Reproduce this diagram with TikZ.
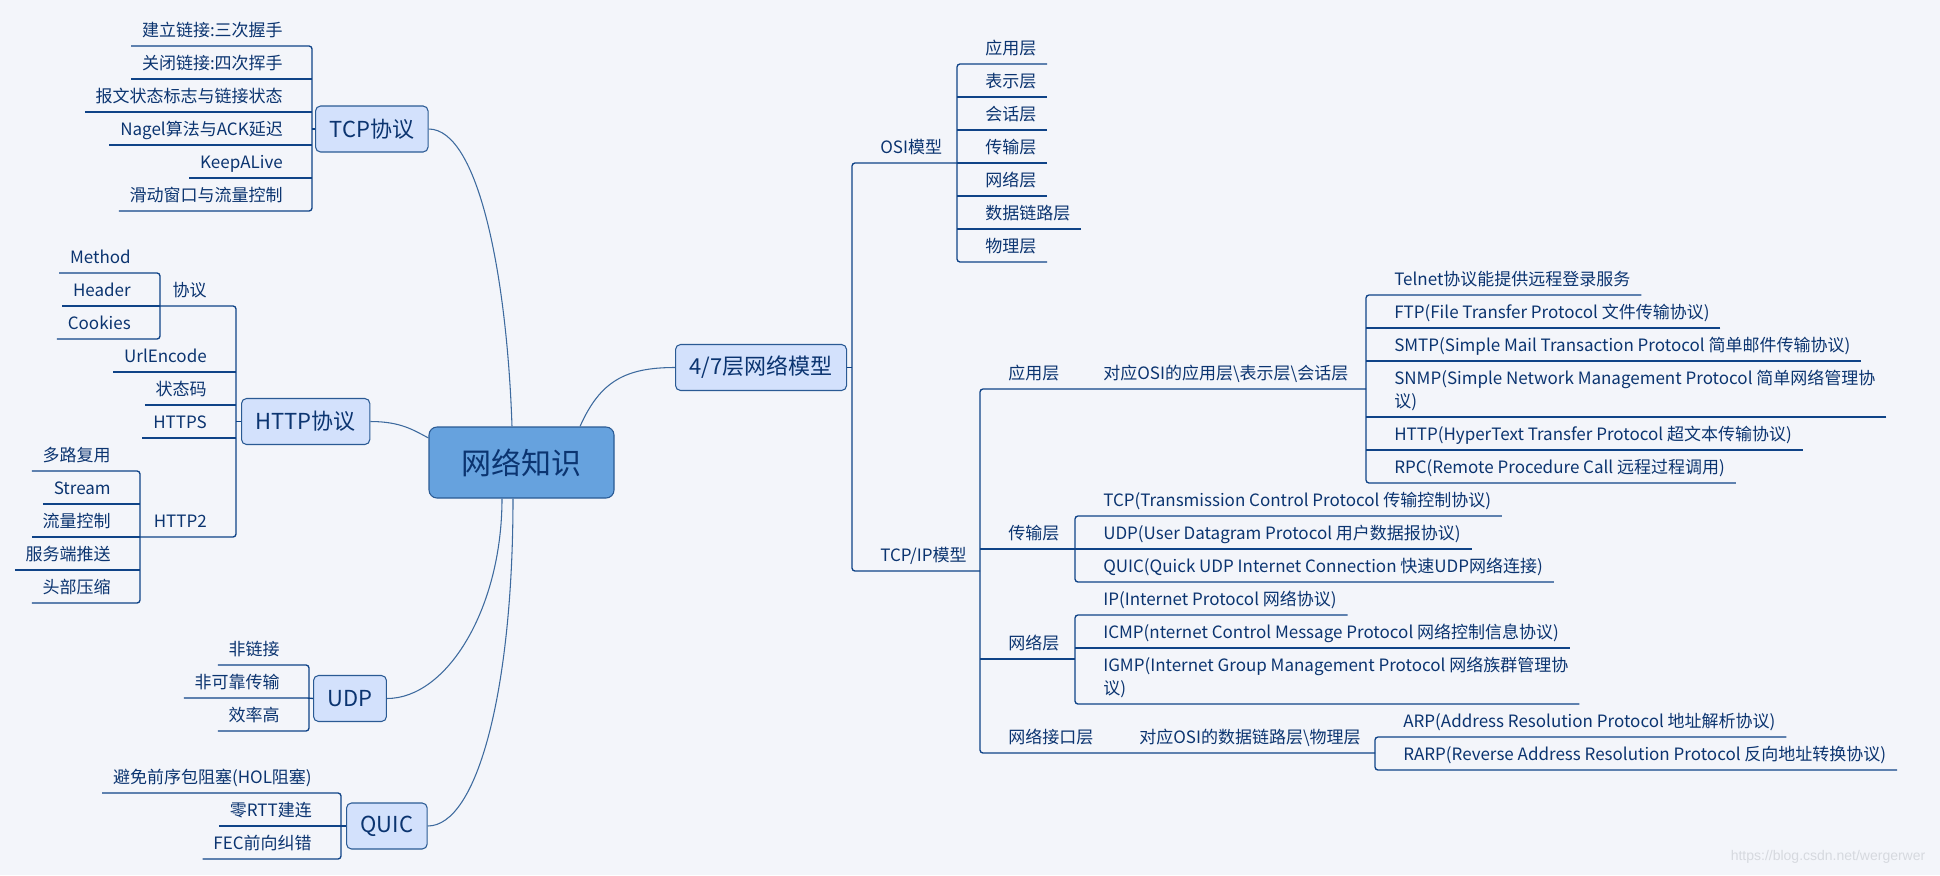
\documentclass[tikz,border=0pt]{standalone}
\usepackage{fontspec}
\setmainfont{Noto Sans CJK SC}
\newfontfamily\markfont{Liberation Sans}
\usetikzlibrary{calc}

\definecolor{bgc}{HTML}{F3F5FA}
\definecolor{linec}{HTML}{0F4387}
\definecolor{textc}{HTML}{0B3470}
\definecolor{curvec}{HTML}{3D6A9E}
\definecolor{boxline}{HTML}{2A5A94}
\definecolor{topicfill}{HTML}{D3E1FC}
\definecolor{rootfill}{HTML}{66A2DE}
\definecolor{markc}{HTML}{D6D9DF}

\begin{document}
\begin{tikzpicture}[
    x=0.75pt, y=-0.75pt, % 1 unidad = 1 px, eje y hacia abajo
    leaf/.style={font=\fontsize{12.75}{17.25}\selectfont, text=textc,
      inner xsep=8pt, inner ysep=0pt, text depth=6.75pt}, % texto sobre su raya
    leafL/.style={leaf, anchor=south east, xshift=-13.75pt}, % ramas a la izquierda
    leafR/.style={leaf, anchor=south west, xshift=13pt}, % ramas a la derecha
    branch/.style={draw=linec, line width=1pt, rounded corners=2.25pt},
    curve/.style={draw=curvec, line width=0.8pt},
    topic/.style={draw=boxline, line width=0.8pt, fill=topicfill, rounded corners=3.75pt,
      text=textc, font=\fontsize{16.5}{20}\selectfont, minimum height=34.5pt, inner xsep=10.5pt},
    root/.style={draw=boxline, line width=0.8pt, fill=rootfill, rounded corners=6pt,
      text=textc, font=\fontsize{22.5}{27}\selectfont, minimum width=138.75pt, minimum height=53.25pt}
]
    % --- Fondo y margenes ---
    \useasboundingbox (0,0) rectangle (1940,875);
    \fill[bgc] (0,0) rectangle (1940,875);

    % --- Nodo central y temas ---
    \node[root] (main) at (521.5,462.5) {网络知识};
    \node[topic, anchor=west] (tcpT) at (315,129) {TCP协议};
    \node[topic, anchor=west] (httpT) at (241,421.5) {HTTP协议};
    \node[topic, anchor=west] (udpT) at (313,698.5) {UDP};
    \node[topic, anchor=west] (quicT) at (346,826) {QUIC};
    \node[topic, anchor=west] (modelT) at (675,367.5) {4/7层网络模型};

    % Curvas del centro a cada tema
    \draw[curve] (tcpT.east) .. controls +(50,0) and +(-5,-150) .. ($(main.north)+(-9.5,0)$);
    \draw[curve] (httpT.east) .. controls +(30,0) and +(-15,-8) .. ($(main.west)+(0,-24.5)$);
    \draw[curve] (udpT.east) .. controls +(60,0) and +(0,110) .. ($(main.south)+(-19.5,0)$);
    \draw[curve] (quicT.east) .. controls +(50,0) and +(0,190) .. ($(main.south)+(-8.5,0)$);
    \draw[curve] ($(main.north)+(58.5,0)$) .. controls +(20,-45) and +(-50,0) .. (modelT.west);

    % --- TCP协议 ---
    \coordinate (tcpV) at (312,0);
    \node[leafL] (tcp1) at (312,46) {建立链接:三次握手};
    \node[leafL] (tcp2) at (312,79) {关闭链接:四次挥手};
    \node[leafL] (tcp3) at (312,112) {报文状态标志与链接状态};
    \node[leafL] (tcp4) at (312,145) {Nagel算法与ACK延迟};
    \node[leafL] (tcp5) at (312,178) {KeepALive};
    \node[leafL] (tcp6) at (312,211) {滑动窗口与流量控制};
    \draw[branch] (tcp1.south west) -| (tcp6.south east -| tcpV) -- (tcp6.south west);
    \draw[branch] (tcp2.south west) -- (tcp2.south west -| tcpV)
      (tcp3.south west) -- (tcp3.south west -| tcpV)
      (tcp4.south west) -- (tcp4.south west -| tcpV)
      (tcp5.south west) -- (tcp5.south west -| tcpV)
      (tcpT.west) -- (tcpT.west -| tcpV);

    % --- HTTP协议 ---
    \coordinate (httpV) at (236,0);
    \coordinate (protoV) at (160,0);
    \coordinate (h2V) at (140,0);
    \node[leafL] (proto) at (236,306) {协议};
    \node[leafL] (url) at (236,372) {UrlEncode};
    \node[leafL] (code) at (236,405) {状态码};
    \node[leafL] (https) at (236,438) {HTTPS};
    \node[leafL] (h2) at (236,537) {HTTP2};
    \node[leafL] (proto1) at (160,273) {Method};
    \node[leafL] (proto2) at (160,306) {Header};
    \node[leafL] (proto3) at (160,339) {Cookies};
    \node[leafL] (h2a) at (140,471) {多路复用};
    \node[leafL] (h2b) at (140,504) {Stream};
    \node[leafL] (h2c) at (140,537) {流量控制};
    \node[leafL] (h2d) at (140,570) {服务端推送};
    \node[leafL] (h2e) at (140,603) {头部压缩};
    \draw[branch] (proto.south west -| protoV) -| (h2.south east -| httpV) -- (h2.south west -| h2V);
    \draw[branch] (url.south west) -- (url.south west -| httpV)
      (code.south west) -- (code.south west -| httpV)
      (https.south west) -- (https.south west -| httpV)
      (httpT.west) -- (httpT.west -| httpV);
    \draw[branch] (proto1.south west) -| (proto3.south east -| protoV) -- (proto3.south west);
    \draw[branch] (proto2.south west) -- (proto2.south west -| protoV);
    \draw[branch] (h2a.south west) -| (h2e.south east -| h2V) -- (h2e.south west);
    \draw[branch] (h2b.south west) -- (h2b.south west -| h2V)
      (h2c.south west) -- (h2c.south west -| h2V)
      (h2d.south west) -- (h2d.south west -| h2V);

    % --- UDP ---
    \coordinate (udpV) at (309,0);
    \node[leafL] (udp1) at (309,665) {非链接};
    \node[leafL] (udp2) at (309,698) {非可靠传输};
    \node[leafL] (udp3) at (309,731) {效率高};
    \draw[branch] (udp1.south west) -| (udp3.south east -| udpV) -- (udp3.south west);
    \draw[branch] (udp2.south west) -- (udp2.south west -| udpV) -- (udpT.west);

    % --- QUIC ---
    \coordinate (quicV) at (341,0);
    \node[leafL] (quic1) at (341,793) {避免前序包阻塞(HOL阻塞)};
    \node[leafL] (quic2) at (341,826) {零RTT建连};
    \node[leafL] (quic3) at (341,859) {FEC前向纠错};
    \draw[branch] (quic1.south west) -| (quic3.south east -| quicV) -- (quic3.south west);
    \draw[branch] (quic2.south west) -- (quic2.south west -| quicV) -- (quicT.west);

    % --- 4/7层网络模型 ---
    \coordinate (modelV) at (852,0);
    \coordinate (osiV) at (957,0);
    \coordinate (tcpipV) at (980,0);
    \node[leafR] (osi) at (852,163) {OSI模型};
    \node[leafR] (tcpip) at (852,571) {TCP/IP模型};
    \draw[branch] (osi.south west -| osiV) -| (tcpip.south west -| modelV) -- (tcpip.south west -| tcpipV);
    \draw[branch] (modelT.east) -- (modelT.east -| modelV);

    % OSI模型: siete capas
    \node[leafR] (osi1) at (957,64) {应用层};
    \node[leafR] (osi2) at (957,97) {表示层};
    \node[leafR] (osi3) at (957,130) {会话层};
    \node[leafR] (osi4) at (957,163) {传输层};
    \node[leafR] (osi5) at (957,196) {网络层};
    \node[leafR] (osi6) at (957,229) {数据链路层};
    \node[leafR] (osi7) at (957,262) {物理层};
    \draw[branch] (osi1.south east) -| (osi7.south west -| osiV) -- (osi7.south east);
    \draw[branch] (osi2.south east) -- (osi2.south east -| osiV)
      (osi3.south east) -- (osi3.south east -| osiV)
      (osi4.south east) -- (osi4.south east -| osiV)
      (osi5.south east) -- (osi5.south east -| osiV)
      (osi6.south east) -- (osi6.south east -| osiV);

    % TCP/IP模型: cuatro capas
    \coordinate (appV) at (1366,0);
    \coordinate (transV) at (1075,0);
    \coordinate (netV) at (1075,0);
    \coordinate (linkV) at (1375,0);
    \node[leafR] (app) at (980,389) {应用层};
    \node[leafR] (appmap) at (1075,389) {对应OSI的应用层\textbackslash 表示层\textbackslash 会话层};
    \node[leafR] (trans) at (980,549) {传输层};
    \node[leafR] (net) at (980,659) {网络层};
    \node[leafR] (link) at (980,753) {网络接口层};
    \node[leafR] (linkmap) at (1111,753) {对应OSI的数据链路层\textbackslash 物理层};
    \draw[branch] (appmap.south east -| appV) -| (link.south west -| tcpipV) -- (linkmap.south east -| linkV);
    \draw[branch] (trans.south west -| tcpipV) -- (trans.south west -| transV)
      (net.south west -| tcpipV) -- (net.south west -| netV);

    % Capa de aplicacion
    \node[leafR] (app1) at (1366,295) {Telnet协议能提供远程登录服务};
    \node[leafR] (app2) at (1366,328) {FTP(File Transfer Protocol 文件传输协议)};
    \node[leafR] (app3) at (1366,361) {SMTP(Simple Mail Transaction Protocol 简单邮件传输协议)};
    \node[leafR, align=left] (app4) at (1366,417) {SNMP(Simple Network Management Protocol 简单网络管理协\\议)};
    \node[leafR] (app5) at (1366,450) {HTTP(HyperText Transfer Protocol 超文本传输协议)};
    \node[leafR] (app6) at (1366,483) {RPC(Remote Procedure Call 远程过程调用)};
    \draw[branch] (app1.south east) -| (app6.south west -| appV) -- (app6.south east);
    \draw[branch] (app2.south east) -- (app2.south east -| appV)
      (app3.south east) -- (app3.south east -| appV)
      (app4.south east) -- (app4.south east -| appV)
      (app5.south east) -- (app5.south east -| appV);

    % Capa de transporte
    \node[leafR] (trans1) at (1075,516) {TCP(Transmission Control Protocol 传输控制协议)};
    \node[leafR] (trans2) at (1075,549) {UDP(User Datagram Protocol 用户数据报协议)};
    \node[leafR] (trans3) at (1075,582) {QUIC(Quick UDP Internet Connection 快速UDP网络连接)};
    \draw[branch] (trans1.south east) -| (trans3.south west -| transV) -- (trans3.south east);
    \draw[branch] (trans2.south east) -- (trans2.south east -| transV);

    % Capa de red
    \node[leafR] (net1) at (1075,615) {IP(Internet Protocol 网络协议)};
    \node[leafR] (net2) at (1075,648) {ICMP(nternet Control Message Protocol 网络控制信息协议)};
    \node[leafR, align=left] (net3) at (1075,704) {IGMP(Internet Group Management Protocol 网络族群管理协\\议)};
    \draw[branch] (net1.south east) -| (net3.south west -| netV) -- (net3.south east);
    \draw[branch] (net2.south east) -- (net2.south east -| netV);

    % Capa de interfaz de red
    \node[leafR] (link1) at (1375,737) {ARP(Address Resolution Protocol 地址解析协议)};
    \node[leafR] (link2) at (1375,770) {RARP(Reverse Address Resolution Protocol 反向地址转换协议)};
    \draw[branch] (link1.south east) -| (link2.south west -| linkV) -- (link2.south east);

    % --- Marca de agua ---
    \node[font=\markfont\fontsize{10.5}{12}\selectfont, text=markc, anchor=east] (mark) at (1930,857) {https://blog.csdn.net/wergerwer};

\end{tikzpicture}
\end{document}
